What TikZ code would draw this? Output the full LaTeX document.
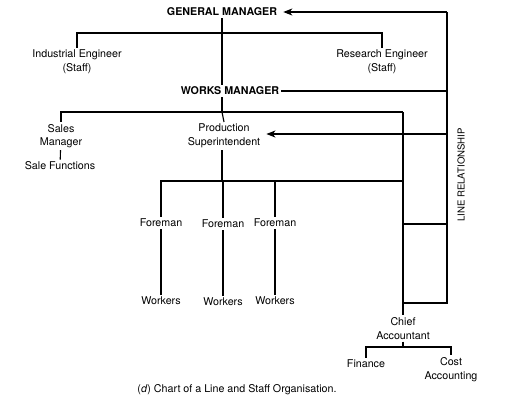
\documentclass[tikz,border=0pt]{standalone}
\usepackage{fontspec}
\setmainfont{TeX Gyre Heros}
\usetikzlibrary{positioning, arrows.meta}
\tikzset{
  post/.style={font=\fontsize{10.7}{13.5}\selectfont, inner sep=2pt, align=center},
  head/.style={post, font=\fontsize{10.7}{13.5}\selectfont\bfseries},
  link/.style={line width=1.1pt},
  order/.style={link, -{Stealth[length=9pt,width=7pt,inset=2.5pt]}, shorten >=4pt}}

\begin{document}
\begin{tikzpicture}[x=1pt,y=-1pt]
\useasboundingbox (0,0) rectangle (508,400);
\coordinate (staff) at (222,33);
\coordinate (wmj) at (222,112);
\coordinate (fj) at (222,181);
\coordinate (lrtop) at (447,12);
\coordinate (lrwm) at (447,91);
\coordinate (lrps) at (447,134);
\coordinate (lrmid) at (447,224);
\coordinate (lrbot) at (447,303);
\coordinate (caj) at (403,347);
\node[head] (gm) at (222,12) {GENERAL MANAGER};
\node[post] (ie) at (77,61.5) {Industrial Engineer\\(Staff)};
\node[post] (re) at (382,61.5) {Research Engineer\\(Staff)};
\node[head] (wm) at (230,91) {WORKS MANAGER};
\node[post] (sm) at (61,136) {Sales\\Manager};
\node[post] (sf) at (60,166) {Sale Functions};
\node[post] (ps) at (224,136) {Production\\Superintendent};
\node[post] (f1) at (161,223) {Foreman};
\node[post] (f2) at (223,224) {Foreman};
\node[post] (f3) at (275,223) {Foreman};
\node[post] (w1) at (161,301) {Workers};
\node[post] (w2) at (223,302) {Workers};
\node[post] (w3) at (275,301) {Workers};
\node[post] (ca) at (403,328.5) {Chief\\Accountant};
\node[post] (fin) at (366,364) {Finance};
\node[post] (cost) at (451,369.5) {Cost\\Accounting};
\node[post, font=\fontsize{9.6}{12}\selectfont, rotate=90] (lr) at (461,175) {LINE RELATIONSHIP};
\node[post] (cap) at (237,390) {(\textit{d}) Chart of a Line and Staff Organisation.};
% line of command
\draw[link] (gm.south) -- (gm.south |- wm.north);
\draw[link] (ie.north) |- (staff) -| (re.north);
\draw[link] (wm.south -| wmj) -- (wmj);
\draw[link] (sm.north) |- (ca.north |- wmj);
\draw[link] (ca.north |- wmj) -- (ca.north);
\draw[link] (wmj) -- (ps.north);
\draw[link] (sm) -- (sf);
\draw[link] (ps.south -| fj) -- (fj);
\draw[link] (f1.north) |- (ca.north |- fj);
\draw[link] (f2.north) -- (f2.north |- fj);
\draw[link] (f3.north) -- (f3.north |- fj);
\draw[link] (f1) -- (w1);
\draw[link] (f2) -- (w2);
\draw[link] (f3) -- (w3);
\draw[link] (ca.south) -- (caj);
\draw[link] (fin.north) |- (caj) -| (cost.north);
% line relationship
\draw[link] (lrbot -| ca.north) -- (lrbot) -- (lrtop);
\draw[link] (lrmid -| ca.north) -- (lrmid);
\draw[link] (wm.east) -- (lrwm);
\draw[order] (lrtop) -- (gm.east);
\draw[order] (lrps) -- (lrps -| ps.east);
\end{tikzpicture}
\end{document}
